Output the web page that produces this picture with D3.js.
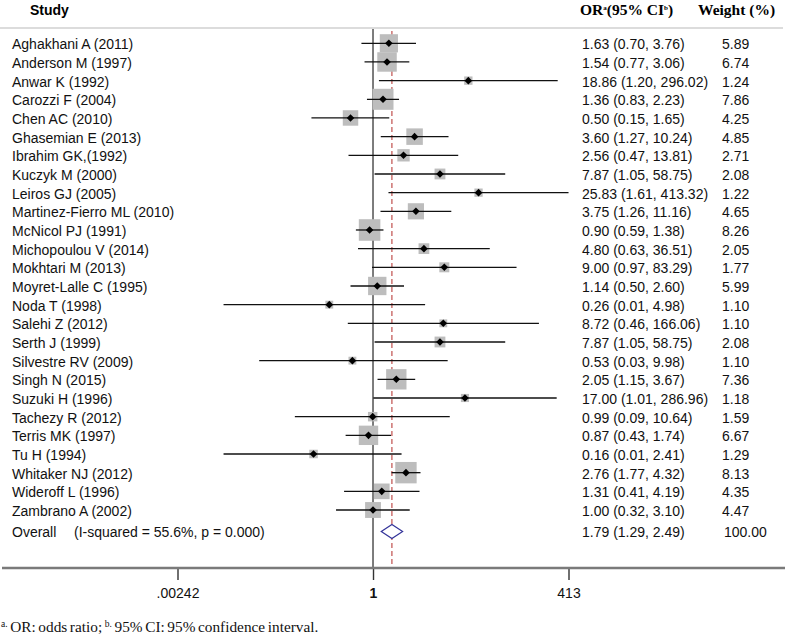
<!DOCTYPE html>
<html><head><meta charset="utf-8">
<script src="https://cdn.jsdelivr.net/npm/d3@7"></script>
<style>
html,body{margin:0;padding:0;background:#fff;}
svg{display:block;}
</style></head>
<body>
<script>
const studies = ["Aghakhani A (2011)","Anderson M (1997)","Anwar K (1992)","Carozzi F (2004)","Chen AC (2010)","Ghasemian E (2013)","Ibrahim GK,(1992)","Kuczyk M (2000)","Leiros GJ (2005)","Martinez-Fierro ML (2010)","McNicol PJ (1991)","Michopoulou V (2014)","Mokhtari M (2013)","Moyret-Lalle C (1995)","Noda T (1998)","Salehi Z (2012)","Serth J (1999)","Silvestre RV (2009)","Singh N (2015)","Suzuki H (1996)","Tachezy R (2012)","Terris MK (1997)","Tu H (1994)","Whitaker NJ (2012)","Wideroff L (1996)","Zambrano A (2002)"];
const orVals = [1.63,1.54,18.86,1.36,0.50,3.60,2.56,7.87,25.83,3.75,0.90,4.80,9.00,1.14,0.26,8.72,7.87,0.53,2.05,17.00,0.99,0.87,0.16,2.76,1.31,1.00];
const ciLow = [0.70,0.77,1.20,0.83,0.15,1.27,0.47,1.05,1.61,1.26,0.59,0.63,0.97,0.50,0.01,0.46,1.05,0.03,1.15,1.01,0.09,0.43,0.01,1.77,0.41,0.32];
const ciHigh = [3.76,3.06,296.02,2.23,1.65,10.24,13.81,58.75,413.32,11.16,1.38,36.51,83.29,2.60,4.98,166.06,58.75,9.98,3.67,286.96,10.64,1.74,2.41,4.32,4.19,3.10];
const weights = [5.89,6.74,1.24,7.86,4.25,4.85,2.71,2.08,1.22,4.65,8.26,2.05,1.77,5.99,1.10,1.10,2.08,1.10,7.36,1.18,1.59,6.67,1.29,8.13,4.35,4.47];
const overallLabel = "Overall";
const overallStat = "(I-squared = 55.6%, p = 0.000)";
const overall = {or:1.79, lo:1.29, hi:2.49, weight:"100.00"};
const tickValues = [0.00242, 1, 413];
const tickLabels = [".00242","1","413"];

const W = 787, H = 638;
const svg = d3.select("body").append("svg").attr("width",W).attr("height",H);

const x = d3.scaleLog().domain([0.00242, 413]).range([177.5, 568.5]);
const y = d3.scaleLinear().domain([0, studies.length-1]).range([43.3, 510]);
const yOverall = 531.5;
const axisY = 568;
const topY = 28;

const fmt = d3.format(".2f");
const lf = "Arial, Liberation Sans, sans-serif";
const fs = 14;

// header
svg.append("text").attr("x",30).attr("y",15).attr("font-family",lf)
  .attr("font-weight","bold").attr("font-size",14).text("Study");
const orHead = svg.append("text").attr("x",580).attr("y",15).attr("font-family","Times New Roman, Liberation Serif, serif")
  .attr("font-weight","bold").attr("font-size",15.5);
orHead.append("tspan").text("OR");
orHead.append("tspan").attr("font-size",7).attr("dy",-5).text("a");
orHead.append("tspan").attr("dy",5).text("(95% CI");
orHead.append("tspan").attr("font-size",7).attr("dy",-5).text("b");
orHead.append("tspan").attr("dy",5).text(")");
svg.append("text").attr("x",698).attr("y",15).attr("font-family","Times New Roman, Liberation Serif, serif")
  .attr("font-weight","bold").attr("font-size",15.5).text("Weight (%)");

svg.append("line").attr("x1",0).attr("x2",783).attr("y1",topY).attr("y2",topY)
  .attr("stroke","#dcdcdc").attr("stroke-width",2);

// null line
svg.append("line").attr("x1",x(1)).attr("x2",x(1)).attr("y1",topY+1).attr("y2",axisY)
  .attr("stroke","#444").attr("stroke-width",1.4);
// overall dashed line
svg.append("line").attr("x1",x(overall.or)).attr("x2",x(overall.or)).attr("y1",topY+3).attr("y2",axisY)
  .attr("stroke","#c0504d").attr("stroke-width",1.2).attr("stroke-dasharray","5,3");

const idx = d3.range(studies.length);
const g = svg.append("g");
// boxes
g.selectAll("rect.box").data(idx).join("rect").attr("class","box")
  .attr("x",i=>x(orVals[i]) - 3.75*Math.sqrt(weights[i]))
  .attr("y",i=>y(i) - 3.75*Math.sqrt(weights[i]))
  .attr("width",i=>7.5*Math.sqrt(weights[i]))
  .attr("height",i=>7.5*Math.sqrt(weights[i]))
  .attr("fill","#bdbdbd");
// CI lines
g.selectAll("line.ci").data(idx).join("line").attr("class","ci")
  .attr("x1",i=>x(ciLow[i])).attr("x2",i=>x(ciHigh[i]))
  .attr("y1",i=>y(i)).attr("y2",i=>y(i))
  .attr("stroke","#111").attr("stroke-width",1.3);
// points
g.selectAll("path.pt").data(idx).join("path").attr("class","pt")
  .attr("d",i=>{const cx=x(orVals[i]), cy=y(i), r=3.8; return `M${cx-r},${cy}L${cx},${cy-r}L${cx+r},${cy}L${cx},${cy+r}Z`;})
  .attr("fill","#000");

// overall diamond
{
  const cx=x(overall.or), l=x(overall.lo), r=x(overall.hi), h=7;
  svg.append("path").attr("d",`M${l},${yOverall}L${cx},${yOverall-h}L${r},${yOverall}L${cx},${yOverall+h}Z`)
    .attr("fill","#fff").attr("stroke","#333399").attr("stroke-width",1.2);
}

// labels
svg.selectAll("text.study").data(idx).join("text").attr("class","study")
  .attr("x",12).attr("y",i=>y(i)+6).attr("font-family",lf).attr("font-size",fs).attr("fill","#111")
  .text(i=>studies[i]);
svg.selectAll("text.orv").data(idx).join("text").attr("class","orv")
  .attr("x",582).attr("y",i=>y(i)+6).attr("font-family",lf).attr("font-size",fs).attr("fill","#111")
  .text(i=>`${fmt(orVals[i])} (${fmt(ciLow[i])}, ${fmt(ciHigh[i])})`);
svg.selectAll("text.wt").data(idx).join("text").attr("class","wt")
  .attr("x",722).attr("y",i=>y(i)+6).attr("font-family",lf).attr("font-size",fs).attr("fill","#111")
  .text(i=>fmt(weights[i]));

svg.append("text").attr("x",12).attr("y",yOverall+5).attr("font-family",lf).attr("font-size",fs).attr("fill","#111").text(overallLabel);
svg.append("text").attr("x",74).attr("y",yOverall+5).attr("font-family",lf).attr("font-size",fs).attr("fill","#111").text(overallStat);
svg.append("text").attr("x",582).attr("y",yOverall+5).attr("font-family",lf).attr("font-size",fs).attr("fill","#111")
  .text(`${fmt(overall.or)} (${fmt(overall.lo)}, ${fmt(overall.hi)})`);
svg.append("text").attr("x",724).attr("y",yOverall+5).attr("font-family",lf).attr("font-size",fs).attr("fill","#111").text(overall.weight);

// axis
const axis = d3.axisBottom(x).tickValues(tickValues).tickFormat((d,i)=>tickLabels[i]).tickSize(12).tickPadding(8);
const ag = svg.append("g").attr("transform",`translate(0,${axisY})`).call(axis);
ag.select(".domain").remove();
ag.selectAll(".tick line").attr("stroke","#333").attr("stroke-width",1.4);
ag.selectAll(".tick text").attr("font-family",lf).attr("font-size",14).attr("fill","#111")
  .attr("font-weight",(d,i)=>i===1?"bold":"normal");
svg.append("line").attr("x1",2).attr("x2",785).attr("y1",axisY).attr("y2",axisY)
  .attr("stroke","#7a7a7a").attr("stroke-width",2.6);

// footnote
const fn = svg.append("text").attr("x",1).attr("y",632).attr("font-family","Times New Roman, Liberation Serif, serif")
  .attr("font-size",15.3).attr("word-spacing",-1.2).attr("fill","#111");
fn.append("tspan").attr("font-size",9.5).attr("dy",-5).text("a.");
fn.append("tspan").attr("dy",5).text(" OR: odds ratio; ");
fn.append("tspan").attr("font-size",9.5).attr("dy",-5).text("b.");
fn.append("tspan").attr("dy",5).text(" 95% CI: 95% confidence interval.");
</script>
</body></html>
